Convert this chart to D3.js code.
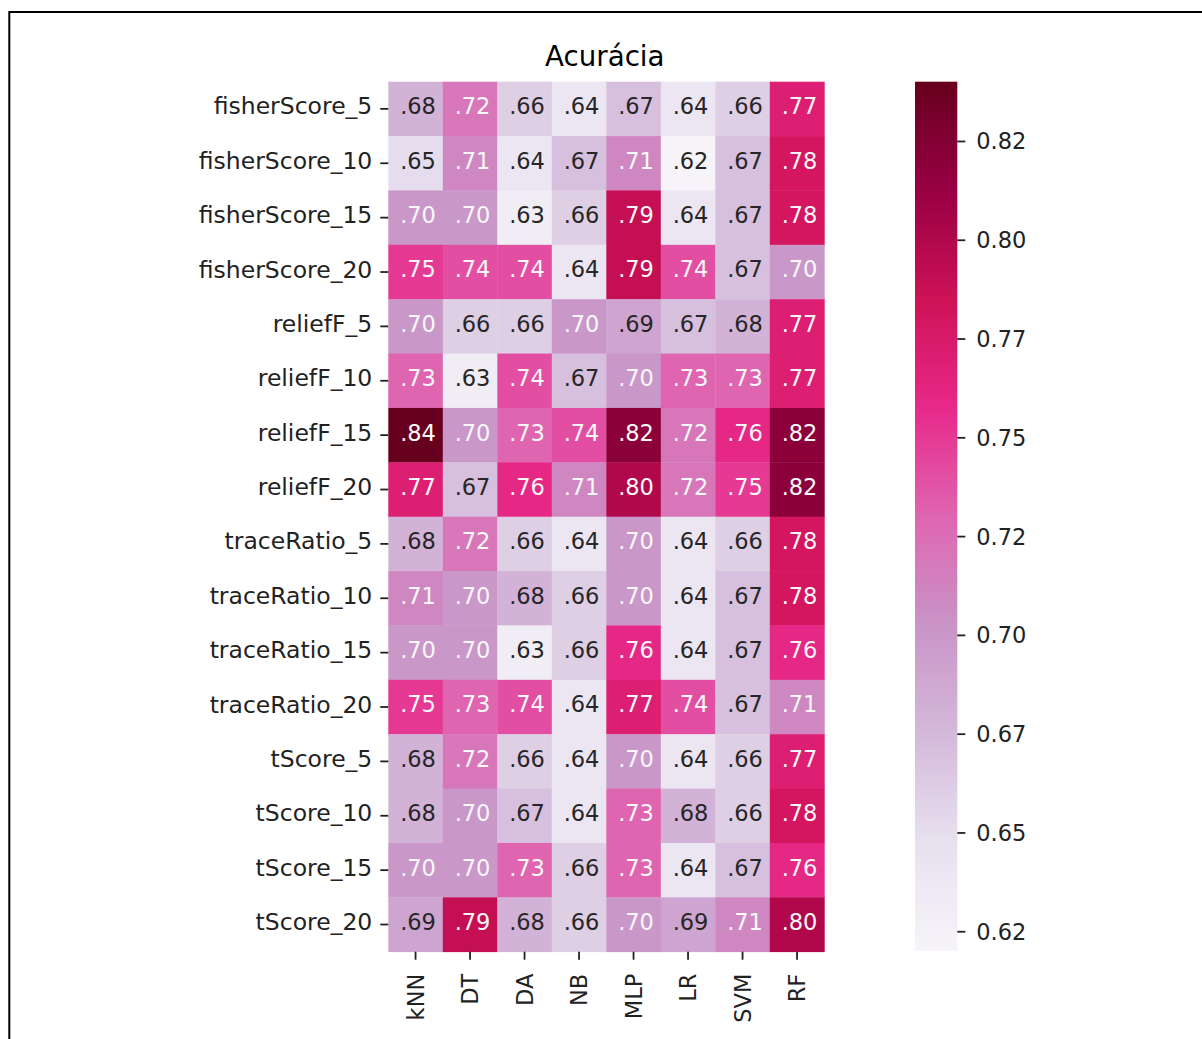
<!DOCTYPE html>
<html>
<head>
<meta charset="utf-8">
<script src="https://cdn.jsdelivr.net/npm/d3@7"></script>
<style>
  html, body { margin: 0; padding: 0; background: #fff; }
  svg { display: block; }
  text { font-family: "DejaVu Sans", sans-serif; }
</style>
</head>
<body>
<svg id="chart" width="1202" height="1039"></svg>
<script>
// ---- data ----
const titleText = "Acurácia";
const models = ["kNN", "DT", "DA", "NB", "MLP", "LR", "SVM", "RF"];
const methods = [
  "fisherScore_5", "fisherScore_10", "fisherScore_15", "fisherScore_20",
  "reliefF_5", "reliefF_10", "reliefF_15", "reliefF_20",
  "traceRatio_5", "traceRatio_10", "traceRatio_15", "traceRatio_20",
  "tScore_5", "tScore_10", "tScore_15", "tScore_20"
];
const fisherScore5  = [0.68, 0.72, 0.66, 0.64, 0.67, 0.64, 0.66, 0.77];
const fisherScore10 = [0.65, 0.71, 0.64, 0.67, 0.71, 0.62, 0.67, 0.78];
const fisherScore15 = [0.70, 0.70, 0.63, 0.66, 0.79, 0.64, 0.67, 0.78];
const fisherScore20 = [0.75, 0.74, 0.74, 0.64, 0.79, 0.74, 0.67, 0.70];
const reliefF5      = [0.70, 0.66, 0.66, 0.70, 0.69, 0.67, 0.68, 0.77];
const reliefF10     = [0.73, 0.63, 0.74, 0.67, 0.70, 0.73, 0.73, 0.77];
const reliefF15     = [0.84, 0.70, 0.73, 0.74, 0.82, 0.72, 0.76, 0.82];
const reliefF20     = [0.77, 0.67, 0.76, 0.71, 0.80, 0.72, 0.75, 0.82];
const traceRatio5   = [0.68, 0.72, 0.66, 0.64, 0.70, 0.64, 0.66, 0.78];
const traceRatio10  = [0.71, 0.70, 0.68, 0.66, 0.70, 0.64, 0.67, 0.78];
const traceRatio15  = [0.70, 0.70, 0.63, 0.66, 0.76, 0.64, 0.67, 0.76];
const traceRatio20  = [0.75, 0.73, 0.74, 0.64, 0.77, 0.74, 0.67, 0.71];
const tScore5       = [0.68, 0.72, 0.66, 0.64, 0.70, 0.64, 0.66, 0.77];
const tScore10      = [0.68, 0.70, 0.67, 0.64, 0.73, 0.68, 0.66, 0.78];
const tScore15      = [0.70, 0.70, 0.73, 0.66, 0.73, 0.64, 0.67, 0.76];
const tScore20      = [0.69, 0.79, 0.68, 0.66, 0.70, 0.69, 0.71, 0.80];
const rows = [fisherScore5, fisherScore10, fisherScore15, fisherScore20,
              reliefF5, reliefF10, reliefF15, reliefF20,
              traceRatio5, traceRatio10, traceRatio15, traceRatio20,
              tScore5, tScore10, tScore15, tScore20];
const cbarTickValues = [0.625, 0.65, 0.675, 0.70, 0.725, 0.75, 0.775, 0.80, 0.825];
const cbarTickLabels = ["0.62", "0.65", "0.67", "0.70", "0.72", "0.75", "0.77", "0.80", "0.82"];
// matplotlib PuRd anchor colours
const puRd = ["#f7f4f9", "#e7e1ef", "#d4b9da", "#c994c7", "#df65b0",
              "#e7298a", "#ce1256", "#980043", "#67001f"];

// ---- layout ----
const hm = { left: 388.3, right: 824.3, top: 81.7, bottom: 951.7 };
const cb = { left: 915, right: 957.3, top: 81.7, bottom: 951 };
const FS = 22.5;
const FS_Y = 23.5;

const svg = d3.select("#chart");

// frame
svg.append("rect")
  .attr("x", 9.3).attr("y", 12)
  .attr("width", 1400).attr("height", 1200)
  .attr("fill", "none").attr("stroke", "#000").attr("stroke-width", 2);

const cells = [];
rows.forEach((r, i) => r.forEach((v, j) => cells.push({ row: methods[i], col: models[j], v })));

const allVals = cells.map(d => d.v);
const [vmin, vmax] = d3.extent(allVals);

const x = d3.scaleBand().domain(models).range([hm.left, hm.right]).padding(0);
const y = d3.scaleBand().domain(methods).range([hm.top, hm.bottom]).padding(0);

const color = d3.scaleLinear()
  .domain(puRd.map((_, i) => vmin + (vmax - vmin) * i / (puRd.length - 1)))
  .range(puRd)
  .interpolate(d3.interpolateRgb)
  .clamp(true);

function lum(c) {
  const rgb = d3.rgb(c);
  const f = u => { u /= 255; return u <= 0.03928 ? u / 12.92 : Math.pow((u + 0.055) / 1.055, 2.4); };
  return 0.2126 * f(rgb.r) + 0.7152 * f(rgb.g) + 0.0722 * f(rgb.b);
}

// title
svg.append("text")
  .attr("x", (hm.left + hm.right) / 2 - 1.5)
  .attr("y", 66)
  .attr("text-anchor", "middle")
  .attr("font-size", 27.7)
  .attr("fill", "#000")
  .text(titleText);

// cells
const g = svg.append("g");
g.selectAll("rect.cell").data(cells).join("rect")
  .attr("class", "cell")
  .attr("x", d => x(d.col))
  .attr("y", d => y(d.row))
  .attr("width", x.bandwidth() + 0.4)
  .attr("height", y.bandwidth() + 0.4)
  .attr("fill", d => color(d.v));

g.selectAll("text.annot").data(cells).join("text")
  .attr("class", "annot")
  .attr("x", d => x(d.col) + x.bandwidth() / 2 + 2.5)
  .attr("y", d => y(d.row) + y.bandwidth() / 2 + 5.4)
  .attr("text-anchor", "middle")
  .attr("font-size", FS)
  .attr("fill", d => lum(color(d.v)) > 0.408 ? "#262626" : "#f8f8f8")
  .text(d => d3.format(".2f")(d.v).replace(/^0/, ""));

// y axis
const yAxis = svg.append("g")
  .attr("transform", `translate(${hm.left},0)`)
  .call(d3.axisLeft(y).tickSize(8).tickPadding(8));
yAxis.select(".domain").remove();
yAxis.selectAll(".tick line").attr("stroke", "#222").attr("stroke-width", 1.8);
yAxis.selectAll(".tick text")
  .attr("font-size", FS_Y).attr("fill", "#222")
  .attr("font-family", "DejaVu Sans")
  .attr("dy", null).attr("y", 5.6);

// x axis
const xAxis = svg.append("g")
  .attr("transform", `translate(0,${hm.bottom})`)
  .call(d3.axisBottom(x).tickSize(8).tickPadding(8));
xAxis.select(".domain").remove();
xAxis.selectAll(".tick line").attr("stroke", "#222").attr("stroke-width", 1.8);
xAxis.selectAll(".tick text")
  .attr("font-size", FS).attr("fill", "#222")
  .attr("font-family", "DejaVu Sans")
  .attr("y", null).attr("dy", null)
  .attr("text-anchor", "end")
  .attr("dominant-baseline", "central")
  .attr("transform", "translate(0,22) rotate(-90)");

// colorbar
const cbScale = d3.scaleLinear().domain([vmin, vmax]).range([cb.bottom, cb.top]);
const defs = svg.append("defs");
const grad = defs.append("linearGradient")
  .attr("id", "cbgrad").attr("x1", 0).attr("y1", 1).attr("x2", 0).attr("y2", 0);
d3.range(0, 1.0001, 1 / 64).forEach(t => {
  grad.append("stop").attr("offset", t).attr("stop-color", color(vmin + (vmax - vmin) * t));
});
svg.append("rect")
  .attr("x", cb.left).attr("y", cb.top)
  .attr("width", cb.right - cb.left).attr("height", cb.bottom - cb.top)
  .attr("fill", "url(#cbgrad)");

const cbAxis = svg.append("g")
  .attr("transform", `translate(${cb.right},0)`)
  .call(d3.axisRight(cbScale).tickValues(cbarTickValues)
        .tickFormat((d, i) => cbarTickLabels[i]).tickSize(8).tickPadding(11));
cbAxis.select(".domain").remove();
cbAxis.selectAll(".tick line").attr("stroke", "#222").attr("stroke-width", 1.8);
cbAxis.selectAll(".tick text")
  .attr("font-size", FS).attr("fill", "#222")
  .attr("font-family", "DejaVu Sans")
  .attr("dy", null).attr("y", 8);
</script>
</body>
</html>
